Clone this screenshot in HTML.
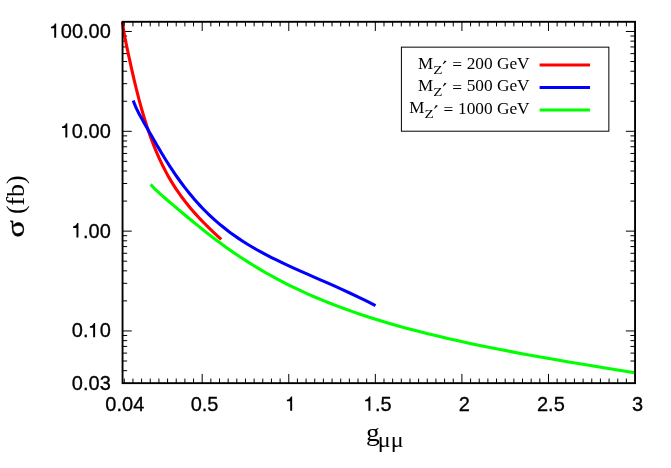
<!DOCTYPE html>
<html><head><meta charset="utf-8"><style>
html,body{margin:0;padding:0;background:#fff;}
svg{display:block;will-change:transform;}
text{fill:#000;}
.sans{font-family:"Liberation Sans",sans-serif;font-size:20px;}
.serif{font-family:"Liberation Serif",serif;}
</style></head><body>
<svg width="671" height="468" viewBox="0 0 671 468">
<rect x="0" y="0" width="671" height="468" fill="#fff"/>
<clipPath id="cp"><rect x="120.95" y="21.80" width="514.10" height="361.35"/></clipPath>
<path d="M124.28 383.15V378.55M124.28 21.80V26.40M132.94 383.15V378.55M132.94 21.80V26.40M141.60 383.15V378.55M141.60 21.80V26.40M150.25 383.15V378.55M150.25 21.80V26.40M158.91 383.15V378.55M158.91 21.80V26.40M167.57 383.15V378.55M167.57 21.80V26.40M176.22 383.15V378.55M176.22 21.80V26.40M184.88 383.15V378.55M184.88 21.80V26.40M193.54 383.15V378.55M193.54 21.80V26.40M202.20 383.15V373.95M202.20 21.80V31.00M210.85 383.15V378.55M210.85 21.80V26.40M219.51 383.15V378.55M219.51 21.80V26.40M228.17 383.15V378.55M228.17 21.80V26.40M236.82 383.15V378.55M236.82 21.80V26.40M245.48 383.15V378.55M245.48 21.80V26.40M254.14 383.15V378.55M254.14 21.80V26.40M262.79 383.15V378.55M262.79 21.80V26.40M271.45 383.15V378.55M271.45 21.80V26.40M280.11 383.15V378.55M280.11 21.80V26.40M288.77 383.15V373.95M288.77 21.80V31.00M297.42 383.15V378.55M297.42 21.80V26.40M306.08 383.15V378.55M306.08 21.80V26.40M314.74 383.15V378.55M314.74 21.80V26.40M323.39 383.15V378.55M323.39 21.80V26.40M332.05 383.15V378.55M332.05 21.80V26.40M340.71 383.15V378.55M340.71 21.80V26.40M349.37 383.15V378.55M349.37 21.80V26.40M358.02 383.15V378.55M358.02 21.80V26.40M366.68 383.15V378.55M366.68 21.80V26.40M375.34 383.15V373.95M375.34 21.80V31.00M383.99 383.15V378.55M383.99 21.80V26.40M392.65 383.15V378.55M392.65 21.80V26.40M401.31 383.15V378.55M401.31 21.80V26.40M409.97 383.15V378.55M409.97 21.80V26.40M418.62 383.15V378.55M418.62 21.80V26.40M427.28 383.15V378.55M427.28 21.80V26.40M435.94 383.15V378.55M435.94 21.80V26.40M444.59 383.15V378.55M444.59 21.80V26.40M453.25 383.15V378.55M453.25 21.80V26.40M461.91 383.15V373.95M461.91 21.80V31.00M470.57 383.15V378.55M470.57 21.80V26.40M479.22 383.15V378.55M479.22 21.80V26.40M487.88 383.15V378.55M487.88 21.80V26.40M496.54 383.15V378.55M496.54 21.80V26.40M505.19 383.15V378.55M505.19 21.80V26.40M513.85 383.15V378.55M513.85 21.80V26.40M522.51 383.15V378.55M522.51 21.80V26.40M531.16 383.15V378.55M531.16 21.80V26.40M539.82 383.15V378.55M539.82 21.80V26.40M548.48 383.15V373.95M548.48 21.80V31.00M557.14 383.15V378.55M557.14 21.80V26.40M565.79 383.15V378.55M565.79 21.80V26.40M574.45 383.15V378.55M574.45 21.80V26.40M583.11 383.15V378.55M583.11 21.80V26.40M591.76 383.15V378.55M591.76 21.80V26.40M600.42 383.15V378.55M600.42 21.80V26.40M609.08 383.15V378.55M609.08 21.80V26.40M617.74 383.15V378.55M617.74 21.80V26.40M626.39 383.15V378.55M626.39 21.80V26.40M122.55 370.68H127.15M122.55 361.00H127.15M635.05 361.00H630.45M122.55 353.10H127.15M635.05 353.10H630.45M122.55 346.42H127.15M635.05 346.42H630.45M122.55 340.63H127.15M635.05 340.63H630.45M122.55 335.52H127.15M635.05 335.52H630.45M122.55 330.95H131.75M635.05 330.95H625.85M122.55 300.90H127.15M635.05 300.90H630.45M122.55 283.32H127.15M635.05 283.32H630.45M122.55 270.85H127.15M635.05 270.85H630.45M122.55 261.18H127.15M635.05 261.18H630.45M122.55 253.27H127.15M635.05 253.27H630.45M122.55 246.59H127.15M635.05 246.59H630.45M122.55 240.80H127.15M635.05 240.80H630.45M122.55 235.69H127.15M635.05 235.69H630.45M122.55 231.13H131.75M635.05 231.13H625.85M122.55 201.08H127.15M635.05 201.08H630.45M122.55 183.50H127.15M635.05 183.50H630.45M122.55 171.03H127.15M635.05 171.03H630.45M122.55 161.35H127.15M635.05 161.35H630.45M122.55 153.45H127.15M635.05 153.45H630.45M122.55 146.76H127.15M635.05 146.76H630.45M122.55 140.97H127.15M635.05 140.97H630.45M122.55 135.87H127.15M635.05 135.87H630.45M122.55 131.30H131.75M635.05 131.30H625.85M122.55 101.25H127.15M635.05 101.25H630.45M122.55 83.67H127.15M635.05 83.67H630.45M122.55 71.20H127.15M635.05 71.20H630.45M122.55 61.52H127.15M635.05 61.52H630.45M122.55 53.62H127.15M635.05 53.62H630.45M122.55 46.94H127.15M635.05 46.94H630.45M122.55 41.15H127.15M635.05 41.15H630.45M122.55 36.04H127.15M635.05 36.04H630.45M122.55 31.47H131.75M635.05 31.47H625.85" stroke="#000" stroke-width="1.0" fill="none"/>
<g clip-path="url(#cp)" fill="none" stroke-width="3.1" stroke-linejoin="round">
<path d="M122.29 21.07L122.53 22.96L122.77 24.78L123.03 26.54L123.29 28.27L123.56 29.96L123.85 31.63L124.14 33.29L124.44 34.95L124.76 36.62L125.08 38.31L125.42 40.01L125.77 41.75L126.13 43.51L126.50 45.32L126.89 47.18L127.29 49.08L127.70 51.04L128.13 53.05L128.58 55.12L129.04 57.25L129.52 59.44L130.01 61.70L130.52 64.02L131.05 66.40L131.60 68.85L132.17 71.37L132.76 73.94L133.37 76.59L134.00 79.29L134.66 82.05L135.33 84.87L136.04 87.75L136.76 90.68L137.52 93.66L138.29 96.69L139.10 99.77L139.94 102.89L140.80 106.05L141.70 109.25L142.63 112.48L143.59 115.74L144.58 119.02L145.61 122.33L146.68 125.66L147.79 129.01L148.93 132.37L150.12 135.74L151.34 139.11L152.61 142.49L153.93 145.87L155.29 149.25L156.71 152.62L158.17 155.98L159.68 159.33L161.25 162.68L162.87 166.00L164.56 169.32L166.30 172.61L168.10 175.89L169.97 179.14L171.90 182.38L173.91 185.60L175.98 188.80L178.13 191.98L180.35 195.14L182.66 198.29L185.04 201.43L187.51 204.55L190.07 207.66L192.72 210.77L195.47 213.88L198.31 216.99L201.25 220.11L204.30 223.24L207.45 226.40L210.72 229.58L214.11 232.80L217.61 236.06L221.24 239.38" stroke="#ff0000"/>
<path d="M133.25 100.40L133.86 102.20L134.49 103.91L135.15 105.54L135.82 107.12L136.52 108.66L137.25 110.17L138.00 111.67L138.77 113.17L139.57 114.68L140.40 116.21L141.26 117.77L142.15 119.37L143.07 121.00L144.02 122.69L145.00 124.42L146.02 126.21L147.07 128.06L148.16 129.98L149.29 131.95L150.46 133.99L151.67 136.10L152.91 138.28L154.21 140.52L155.54 142.83L156.93 145.20L158.36 147.63L159.84 150.13L161.37 152.69L162.95 155.31L164.59 157.98L166.29 160.71L168.05 163.48L169.86 166.31L171.74 169.17L173.69 172.08L175.70 175.03L177.78 178.00L179.93 181.01L182.16 184.04L184.47 187.09L186.85 190.16L189.32 193.24L191.87 196.33L194.52 199.42L197.25 202.51L200.08 205.60L203.00 208.69L206.03 211.76L209.16 214.81L212.41 217.85L215.76 220.87L219.23 223.86L222.82 226.82L226.53 229.76L230.37 232.67L234.35 235.54L238.46 238.39L242.72 241.20L247.12 243.99L251.68 246.74L256.39 249.47L261.27 252.18L266.32 254.87L271.54 257.55L276.94 260.23L282.53 262.91L288.32 265.61L294.30 268.34L300.49 271.11L306.89 273.93L313.52 276.83L320.38 279.82L327.47 282.93L334.81 286.18L342.41 289.60L350.27 293.22L358.40 297.07L366.81 301.19L375.51 305.62" stroke="#0000ff"/>
<path d="M150.63 184.37L151.85 185.76L153.11 187.12L154.41 188.46L155.76 189.80L157.15 191.13L158.59 192.47L160.08 193.82L161.63 195.20L163.23 196.60L164.88 198.03L166.59 199.51L168.36 201.02L170.19 202.58L172.09 204.18L174.05 205.84L176.08 207.55L178.18 209.32L180.35 211.15L182.60 213.03L184.92 214.98L187.33 216.98L189.82 219.05L192.40 221.18L195.06 223.36L197.82 225.61L200.68 227.91L203.63 230.26L206.69 232.68L209.85 235.14L213.12 237.66L216.51 240.22L220.01 242.83L223.64 245.49L227.39 248.18L231.27 250.92L235.29 253.68L239.44 256.48L243.74 259.31L248.19 262.17L252.80 265.04L257.56 267.94L262.49 270.85L267.59 273.77L272.87 276.71L278.33 279.65L283.98 282.59L289.83 285.54L295.88 288.48L302.14 291.41L308.62 294.34L315.32 297.26L322.25 300.16L329.43 303.05L336.86 305.92L344.54 308.78L352.49 311.61L360.72 314.42L369.23 317.21L378.04 319.98L387.15 322.72L396.58 325.44L406.34 328.14L416.43 330.81L426.88 333.47L437.69 336.10L448.88 338.71L460.45 341.31L472.42 343.90L484.82 346.47L497.64 349.04L510.91 351.61L524.63 354.17L538.84 356.75L553.54 359.34L568.75 361.95L584.48 364.58L600.77 367.25L617.62 369.96L635.05 372.73" stroke="#00ff00"/>
</g>
<rect x="122.55" y="21.80" width="512.50" height="361.35" fill="none" stroke="#000" stroke-width="1.9"/>
<path d="M56.18 37.77L54.23 37.77L54.23 28.27L50.93 28.27L50.93 26.67C52.93 26.57 54.48 25.32 54.93 23.42L56.18 23.42Z" fill="#000"/><text class="sans" stroke="#000" stroke-width="0.3" transform="translate(49.63,37.92) scale(1,1.05)" x="11.12 22.25 33.37 38.93 50.05">00.00</text>
<path d="M67.30 137.60L65.35 137.60L65.35 128.10L62.05 128.10L62.05 126.50C64.05 126.40 65.60 125.15 66.05 123.25L67.30 123.25Z" fill="#000"/><text class="sans" stroke="#000" stroke-width="0.3" transform="translate(60.75,137.75) scale(1,1.05)" x="11.12 22.25 27.80 38.93">0.00</text>
<path d="M78.42 237.43L76.47 237.43L76.47 227.93L73.17 227.93L73.17 226.33C75.17 226.23 76.72 224.98 77.17 223.08L78.42 223.08Z" fill="#000"/><text class="sans" stroke="#000" stroke-width="0.3" transform="translate(71.87,237.58) scale(1,1.05)" x="11.12 16.68 27.80">.00</text>
<path d="M95.10 337.25L93.15 337.25L93.15 327.75L89.85 327.75L89.85 326.15C91.85 326.05 93.40 324.80 93.85 322.90L95.10 322.90Z" fill="#000"/><text class="sans" stroke="#000" stroke-width="0.3" transform="translate(71.87,337.40) scale(1,1.05)" x="0.00 11.12 27.80">0.0</text>
<text class="sans" stroke="#000" stroke-width="0.3" transform="translate(71.87,389.60) scale(1,1.05)" x="0.00 11.12 16.68 27.80">0.03</text>
<text class="sans" stroke="#000" stroke-width="0.3" transform="translate(105.34,411.00) scale(1,1.05)" x="0.00 11.12 16.68 27.80">0.04</text>
<text class="sans" stroke="#000" stroke-width="0.3" transform="translate(190.69,411.00) scale(1,1.05)" x="0.00 11.12 16.68">0.5</text>
<path d="M292.15 410.85L290.20 410.85L290.20 401.35L286.90 401.35L286.90 399.75C288.90 399.65 290.45 398.40 290.90 396.50L292.15 396.50Z" fill="#000"/>
<path d="M370.39 410.85L368.44 410.85L368.44 401.35L365.14 401.35L365.14 399.75C367.14 399.65 368.69 398.40 369.14 396.50L370.39 396.50Z" fill="#000"/><text class="sans" stroke="#000" stroke-width="0.3" transform="translate(363.84,411.00) scale(1,1.05)" x="11.12 16.68">.5</text>
<text class="sans" stroke="#000" stroke-width="0.3" transform="translate(458.75,411.00) scale(1,1.05)" x="0.00">2</text>
<text class="sans" stroke="#000" stroke-width="0.3" transform="translate(536.98,411.00) scale(1,1.05)" x="0.00 11.12 16.68">2.5</text>
<text class="sans" stroke="#000" stroke-width="0.3" transform="translate(631.89,411.00) scale(1,1.05)" x="0.00">3</text>
<!-- y label -->
<g class="serif" font-size="25" transform="translate(23.5,237.5) rotate(-90)">
<text transform="scale(1.28,1)" x="0" y="0" stroke="#000" stroke-width="0.35">σ</text>
<text transform="translate(23.4,0) scale(1.03,1)" x="0" y="0">(fb)</text>
</g>
<!-- x label -->
<text class="serif" font-size="25" transform="translate(365.9,440.9) scale(1.10,1)">g</text>
<text class="serif" font-size="20" transform="translate(377.8,447.0) scale(1.2,1)">μμ</text>
<!-- legend -->
<rect x="401.4" y="47.15" width="207.45" height="84.05" fill="none" stroke="#000" stroke-width="1"/>
<g class="serif" font-size="17">
<text x="418.0" y="68.7">M</text><text font-size="12.6" transform="translate(433.2,73.6) scale(1.2,1)">Z</text><path d="M444.70 60.50L446.50 61.20L443.40 64.20L442.80 63.90Z" fill="#000"/><text font-size="17.3" x="452.3" y="70.3">=</text><text font-size="17.3" text-anchor="end" x="529.6" y="68.95">200 GeV</text>
<text x="418.0" y="91.0">M</text><text font-size="12.6" transform="translate(433.2,95.9) scale(1.2,1)">Z</text><path d="M444.70 82.80L446.50 83.50L443.40 86.50L442.80 86.20Z" fill="#000"/><text font-size="17.3" x="452.3" y="92.6">=</text><text font-size="17.3" text-anchor="end" x="529.6" y="91.25">500 GeV</text>
<text x="409.3" y="113.3">M</text><text font-size="12.6" transform="translate(424.5,118.2) scale(1.2,1)">Z</text><path d="M436.00 105.10L437.80 105.80L434.70 108.80L434.10 108.50Z" fill="#000"/><text font-size="17.3" x="443.6" y="114.9">=</text><text font-size="17.3" text-anchor="end" x="529.6" y="113.55">1000 GeV</text>
</g>
<g stroke-width="3" fill="none">
<path d="M539.6 65.1H590.05" stroke="#ff0000"/>
<path d="M539.6 87.5H590.05" stroke="#0000ff"/>
<path d="M539.6 109.9H590.05" stroke="#00ff00"/>
</g>
</svg>
</body></html>
